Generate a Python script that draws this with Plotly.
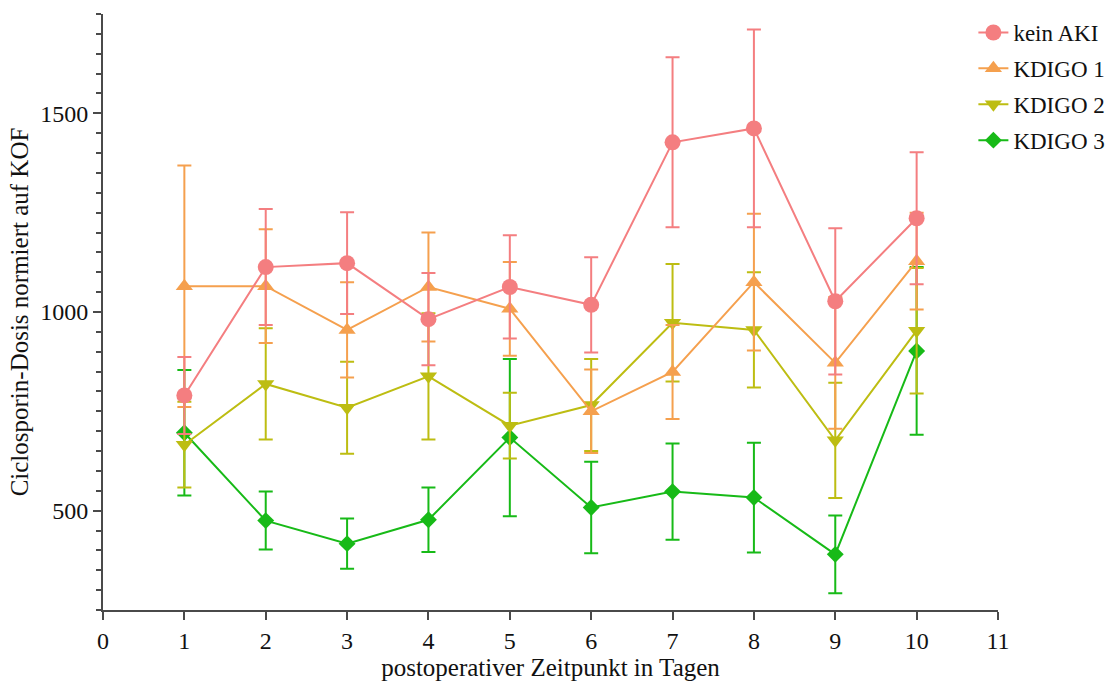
import plotly.graph_objects as go

# Postoperative day
days = [1, 2, 3, 4, 5, 6, 7, 8, 9, 10]

# Mean ciclosporin dose normalised to body surface area, with error (±)
kein_aki = [790, 1113, 1123, 982, 1063, 1018, 1427, 1462, 1027, 1236]
kein_aki_err = [97, 146, 128, 116, 130, 120, 214, 249, 184, 166]

kdigo1 = [1065, 1065, 955, 1063, 1008, 750, 849, 1075, 872, 1128]
kdigo1_err = [304, 143, 120, 137, 118, 105, 118, 172, 166, 122]

kdigo2 = [666, 819, 759, 838, 714, 766, 973, 955, 677, 953]
kdigo2_err = [108, 140, 116, 159, 83, 116, 148, 145, 145, 158]

kdigo3 = [696, 475, 417, 477, 684, 508, 548, 533, 390, 902]
kdigo3_err = [158, 73, 63, 81, 198, 115, 121, 138, 98, 211]

x_ticks = list(range(0, 12))
y_ticks = [500, 1000, 1500]

FONT = "Liberation Serif"
TEXT = "#111111"
AXIS_COLOR = "#4a4a4a"

# (name, values, errors, colour, marker symbol, marker size, legend rank) — drawn bottom to top
series = [
    ("KDIGO 3", kdigo3, kdigo3_err, "#17BA17", "diamond", 13, 4),
    ("KDIGO 2", kdigo2, kdigo2_err, "#BDBD12", "triangle-down", 15, 3),
    ("KDIGO 1", kdigo1, kdigo1_err, "#F5A04E", "triangle-up", 15, 2),
    ("kein AKI", kein_aki, kein_aki_err, "#F47E80", "circle", 16, 1),
]

fig = go.Figure()
for name, vals, errs, color, symbol, size, rank in series:
    fig.add_trace(go.Scatter(
        x=days, y=vals, name=name, legendgroup=name, legendrank=rank,
        mode="lines+markers",
        line=dict(color=color, width=2),
        marker=dict(color=color, symbol=symbol, size=size, line=dict(width=0)),
        error_y=dict(type="data", array=errs, visible=True,
                     color=color, thickness=2, width=7),
    ))

fig.update_layout(
    width=1116, height=681,
    margin=dict(l=103, r=118, t=14, b=71, autoexpand=False),
    paper_bgcolor="white", plot_bgcolor="white",
    font=dict(family=FONT, size=24, color=TEXT),
    showlegend=True,
    legend=dict(
        x=0.9725, y=1.005, xanchor="left", yanchor="top",
        traceorder="grouped", tracegroupgap=3,
        font=dict(family=FONT, size=23, color=TEXT),
        bgcolor="rgba(0,0,0,0)", itemwidth=30,
    ),
    xaxis=dict(
        range=[0, 11], tickmode="array", tickvals=x_ticks,
        ticks="outside", ticklen=8, tickwidth=2, tickcolor=AXIS_COLOR,
        showline=True, linecolor=AXIS_COLOR, linewidth=2,
        showgrid=False, zeroline=False, automargin=False,
        tickfont=dict(family=FONT, size=24, color=TEXT),
        title=dict(text="postoperativer Zeitpunkt in Tagen",
                   font=dict(family=FONT, size=25, color=TEXT), standoff=2),
    ),
    yaxis=dict(
        range=[250, 1750], tickmode="array", tickvals=y_ticks,
        ticks="outside", ticklen=8, tickwidth=2, tickcolor=AXIS_COLOR,
        minor=dict(tickmode="linear", tick0=0, dtick=50, ticks="outside",
                   ticklen=5, tickwidth=1.5, tickcolor=AXIS_COLOR, showgrid=False),
        showline=True, linecolor=AXIS_COLOR, linewidth=2,
        showgrid=False, zeroline=False, automargin=False,
        tickfont=dict(family=FONT, size=24, color=TEXT),
        title=dict(text="Ciclosporin-Dosis normiert auf KOF",
                   font=dict(family=FONT, size=25, color=TEXT), standoff=4),
    ),
)

fig.write_html("out.html")
